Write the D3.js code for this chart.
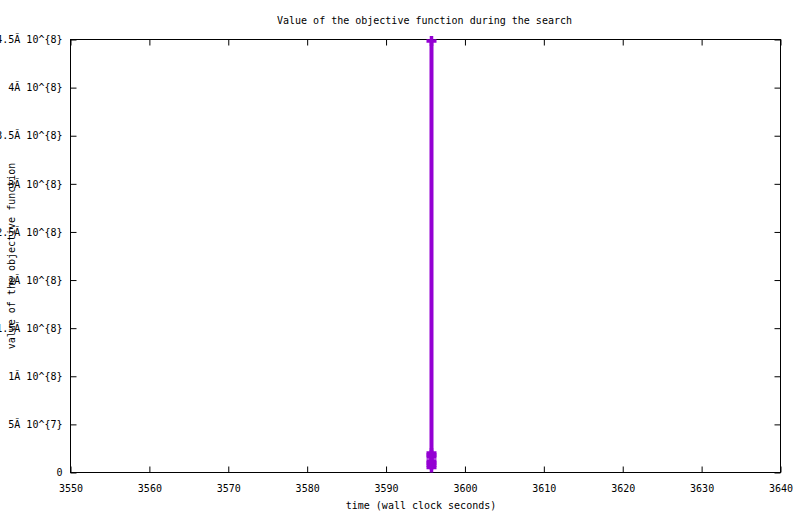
<!DOCTYPE html>
<html><head><meta charset="utf-8">
<script src="https://cdn.jsdelivr.net/npm/d3@7"></script>
<style>
body{margin:0;background:#fff;}
text{font-family:"DejaVu Sans Mono","Liberation Mono",monospace;font-size:10px;fill:#000;}
</style></head>
<body>
<svg id="c" width="800" height="514"></svg>
<script>
const times = [3595.76, 3595.76, 3595.76, 3595.76, 3595.76, 3595.76, 3595.76, 3595.76];
const values = [448.5e6, 20.3e6, 18.2e6, 16.1e6, 11.9e6, 9.9e6, 7.8e6, 5.2e6];
const yTickValues = [0, 5e7, 1e8, 1.5e8, 2e8, 2.5e8, 3e8, 3.5e8, 4e8, 4.5e8];
const yTickLabels = ["0", "5Ă 10^{7}", "1Ă 10^{8}", "1.5Ă 10^{8}", "2Ă 10^{8}", "2.5Ă 10^{8}", "3Ă 10^{8}", "3.5Ă 10^{8}", "4Ă 10^{8}", "4.5Ă 10^{8}"];
const xTickValues = [3550, 3560, 3570, 3580, 3590, 3600, 3610, 3620, 3630, 3640];
const titleText = "Value of the objective function during the search";
const xLabel = "time (wall clock seconds)";
const yLabel = "value of the objective function";

const svg = d3.select("#c");
const L = 70.5, R = 780.5, T = 39.5, B = 472.5;
const x = d3.scaleLinear().domain([3550, 3640]).range([L, R]);
const y = d3.scaleLinear().domain([0, 4.5e8]).range([B, T]);
const tick = 6;

// frame
svg.append("rect").attr("x", L).attr("y", T).attr("width", R - L).attr("height", B - T)
  .attr("fill", "none").attr("stroke", "#000").attr("stroke-width", 1);

// y ticks (left & right, inward)
const yAxisL = d3.axisLeft(y).tickValues(yTickValues).tickSize(-tick).tickPadding(8)
  .tickFormat((d, i) => yTickLabels[i]);
const gyl = svg.append("g").attr("transform", `translate(${L},0)`).call(yAxisL);
gyl.select(".domain").remove();
const gyr = svg.append("g").attr("transform", `translate(${R},0)`)
  .call(d3.axisRight(y).tickValues(yTickValues).tickSize(-tick).tickFormat(""));
gyr.select(".domain").remove();

// x ticks (bottom & top, inward)
const gxb = svg.append("g").attr("transform", `translate(0,${B})`)
  .call(d3.axisBottom(x).tickValues(xTickValues).tickSize(-tick).tickPadding(12).tickFormat(d3.format("d")));
gxb.select(".domain").remove();
const gxt = svg.append("g").attr("transform", `translate(0,${T})`)
  .call(d3.axisTop(x).tickValues(xTickValues).tickSize(-tick).tickFormat(""));
gxt.select(".domain").remove();

svg.selectAll(".tick line").attr("stroke", "#000").attr("stroke-width", 1);
svg.selectAll(".tick text").style("font-family", '"DejaVu Sans Mono","Liberation Mono",monospace').style("font-size", "10px").attr("fill", "#000");

// series
const pts = times.map((t, i) => [t, values[i]]);
const color = "#9400D3";
svg.append("path").datum(pts)
  .attr("d", d3.line().x(d => x(d[0])).y(d => y(d[1])))
  .attr("fill", "none").attr("stroke", color).attr("stroke-width", 4);
const s = 5;
svg.append("g").selectAll("path").data(pts).join("path")
  .attr("d", d => {
    const cx = x(d[0]), cy = y(d[1]);
    return `M${cx - s},${cy}H${cx + s}M${cx},${cy - s}V${cy + s}`;
  })
  .attr("stroke", color).attr("stroke-width", 3.5).attr("fill", "none");

// titles
svg.append("text").attr("x", 424.5).attr("y", 24).attr("text-anchor", "middle").text(titleText);
svg.append("text").attr("x", 421).attr("y", 509).attr("text-anchor", "middle").text(xLabel);
svg.append("text").attr("transform", "translate(15,256) rotate(-90)").attr("text-anchor", "middle").text(yLabel);
</script>
</body></html>
